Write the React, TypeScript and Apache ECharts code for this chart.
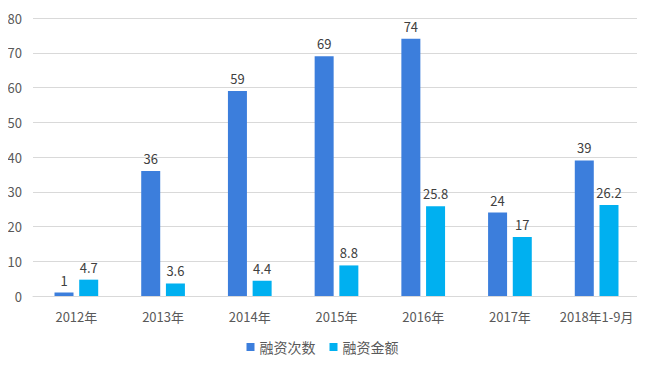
import React, { useEffect, useRef } from "react";
import * as echarts from "echarts";

const categories = ["2012年", "2013年", "2014年", "2015年", "2016年", "2017年", "2018年1-9月"];
const countValues = [1, 36, 59, 69, 74, 24, 39];
const amountValues = [4.7, 3.6, 4.4, 8.8, 25.8, 17, 26.2];
const seriesNames = ["融资次数", "融资金额"];

export default function App() {
  const ref = useRef<HTMLDivElement>(null);
  useEffect(() => {
    if (!ref.current) return;
    const chart = echarts.init(ref.current, null, { renderer: "svg" });
    const font = "'Noto Sans CJK SC', 'Microsoft YaHei', sans-serif";
    chart.setOption({
      animation: false,
      textStyle: { fontFamily: font },
      grid: { left: 33, right: 5, top: 18, bottom: 70 },
      legend: {
        bottom: 7,
        left: "center",
        itemWidth: 8,
        itemHeight: 8,
        itemGap: 14,
        icon: "rect",
        textStyle: { fontSize: 14, color: "#595959", fontFamily: font },
        data: seriesNames,
      },
      xAxis: {
        type: "category",
        data: categories,
        axisLine: { lineStyle: { color: "#D9D9D9" } },
        axisTick: { show: false },
        axisLabel: { fontSize: 13, color: "#595959", margin: 14, interval: 0 },
      },
      yAxis: {
        type: "value",
        min: 0,
        max: 80,
        interval: 10,
        axisLine: { show: false },
        axisTick: { show: false },
        splitLine: { lineStyle: { color: "#D9D9D9" } },
        axisLabel: { fontSize: 13, color: "#595959", margin: 11 },
      },
      series: [
        {
          name: seriesNames[0],
          type: "bar",
          data: countValues,
          barWidth: 19,
          barGap: "30%",
          itemStyle: { color: "#3C7EDC" },
          label: { show: true, position: "top", fontSize: 13, color: "#404040", distance: 6 },
        },
        {
          name: seriesNames[1],
          type: "bar",
          data: amountValues,
          barWidth: 19,
          itemStyle: { color: "#00B0F0" },
          label: { show: true, position: "top", fontSize: 13, color: "#404040", distance: 6 },
        },
      ],
    });
    return () => chart.dispose();
  }, []);
  return <div ref={ref} style={{ width: 645, height: 366, margin: -8 }} />;
}
